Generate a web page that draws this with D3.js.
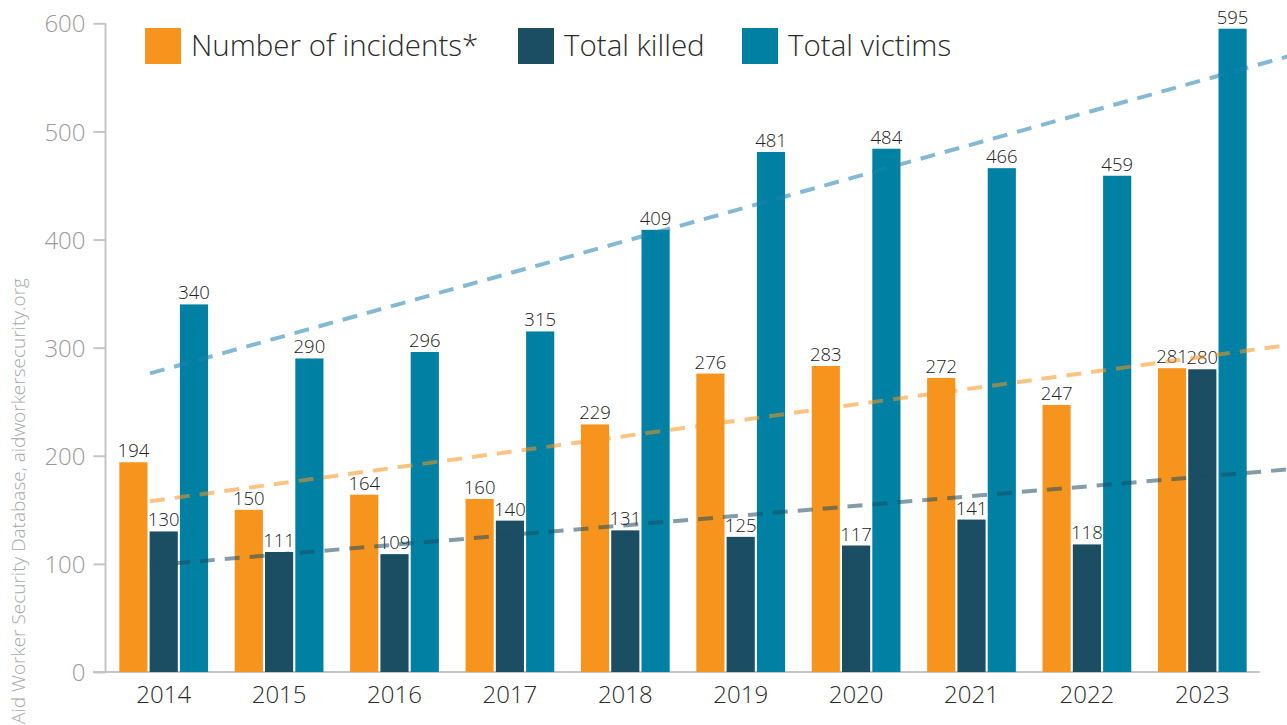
<!DOCTYPE html>
<html>
<head>
<meta charset="utf-8">
<script src="https://cdn.jsdelivr.net/npm/d3@7"></script>
<style>
  html, body { margin: 0; padding: 0; background: #fff; }
  svg { display: block; font-family: "Open Sans", Lato, sans-serif; font-weight: 300; }
</style>
</head>
<body>
<svg id="chart" width="1287" height="725"></svg>
<script>
const years = ["2014","2015","2016","2017","2018","2019","2020","2021","2022","2023"];
const incidents = [194,150,164,160,229,276,283,272,247,281];
const killed = [130,111,109,140,131,125,117,141,118,280];
const victims = [340,290,296,315,409,481,484,466,459,595];
const seriesNames = ["Number of incidents*","Total killed","Total victims"];
const seriesColors = ["#f7941d","#1b4d63","#0081a4"];
const trendColors = ["#f7941d","#1b4d63","#1f7fb0"];
const yTicks = [0,100,200,300,400,500,600];
const sourceText = "Aid Worker Security Database, aidworkersecurity.org";

const seriesValues = [incidents, killed, victims];
const W = 1287, H = 725;
const svg = d3.select("#chart");
const FONT = "'Open Sans', Lato, sans-serif";

const y = d3.scaleLinear().domain([0, 600]).range([672, 23.3]);
const x0 = d3.scaleBand().domain(years).range([106, 1260]).paddingInner(0.231).paddingOuter(0.1155);
const x1 = d3.scaleBand().domain(d3.range(3)).range([0, x0.bandwidth()]).paddingInner(0.07);

// Y axis
const yAxis = d3.axisLeft(y).tickValues(yTicks).tickSize(12).tickPadding(8);
const gy = svg.append("g").attr("transform", "translate(105.5,0)").call(yAxis);
gy.select(".domain").attr("stroke", "#c4c6c6").attr("stroke-width", 2).attr("d", `M0,${y(600)}V${y(0)}`);
gy.selectAll(".tick line").attr("stroke", "#c4c6c6").attr("stroke-width", 2);
gy.selectAll(".tick text").attr("fill", "#9a9a9a").attr("font-size", 24).attr("font-family", FONT).attr("font-weight", 300).attr("dy", "0.36em");

// baseline
svg.append("line").attr("x1", 93).attr("x2", 1260).attr("y1", y(0)).attr("y2", y(0))
  .attr("stroke", "#c4c6c6").attr("stroke-width", 2);

// Bars
const groups = svg.append("g").selectAll("g").data(years).join("g")
  .attr("transform", d => `translate(${x0(d)},0)`);

groups.each(function(yr, i) {
  const g = d3.select(this);
  for (let s = 0; s < 3; s++) {
    const v = seriesValues[s][i];
    g.append("rect")
      .attr("x", x1(s)).attr("width", x1.bandwidth())
      .attr("y", y(v)).attr("height", y(0) - y(v))
      .attr("fill", seriesColors[s]);
    g.append("text")
      .attr("x", x1(s) + x1.bandwidth() / 2)
      .attr("y", y(v) - 5)
      .attr("text-anchor", "middle")
      .attr("font-size", 18.5)
      .attr("fill", "#222")
      .text(v);
  }
});

// X labels
const xAxis = d3.axisBottom(x0).tickSize(0).tickPadding(14);
const gx = svg.append("g").attr("transform", `translate(0,${y(0)})`).call(xAxis);
gx.select(".domain").remove();
gx.selectAll(".tick text").attr("fill", "#2b2b2b").attr("font-size", 24).attr("font-family", FONT).attr("font-weight", 300).attr("dy", "0.71em");

// Trend lines (least-squares fits of each series)
const xLin = d3.scaleLinear().domain([0, years.length - 1])
  .range([x0(years[0]) + x0.bandwidth() / 2, x0(years[years.length - 1]) + x0.bandwidth() / 2]);
function fit(vals) {
  const n = vals.length, mx = (n - 1) / 2, my = d3.mean(vals);
  let sxy = 0, sxx = 0;
  vals.forEach((v, i) => { sxy += (i - mx) * (v - my); sxx += (i - mx) * (i - mx); });
  const b = sxy / sxx;
  return t => my + b * (t - mx);
}
const tStart = xLin.invert(150), tEnd = xLin.invert(W + 5);
seriesValues.forEach((vals, s) => {
  const f = fit(vals);
  svg.append("line")
    .attr("x1", xLin(tStart)).attr("y1", y(f(tStart)))
    .attr("x2", xLin(tEnd)).attr("y2", y(f(tEnd)))
    .attr("stroke", trendColors[s])
    .attr("stroke-opacity", 0.55)
    .attr("stroke-width", 4)
    .attr("stroke-dasharray", "15,10");
});

// Legend
const legendX = [145, 518, 742];
const leg = svg.append("g");
seriesNames.forEach((name, s) => {
  leg.append("rect").attr("x", legendX[s]).attr("y", 28).attr("width", 36).attr("height", 36).attr("fill", seriesColors[s]);
  leg.append("text").attr("x", legendX[s] + 46).attr("y", 56).attr("font-size", 29.5).attr("fill", "#2b2b2b").text(name);
});

// Source
svg.append("text")
  .attr("transform", "translate(25,724) rotate(-90)")
  .attr("font-size", 19)
  .attr("fill", "#a8a8a8")
  .text(sourceText);
</script>
</body>
</html>
